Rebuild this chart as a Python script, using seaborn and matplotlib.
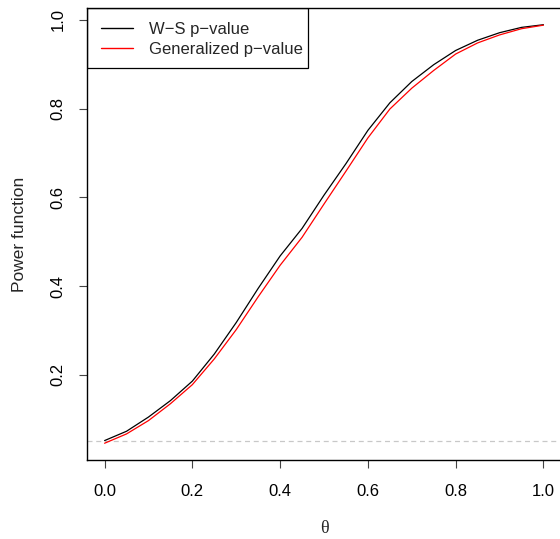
import numpy as np
import pandas as pd
import matplotlib
matplotlib.use("Agg")
import matplotlib.pyplot as plt
from matplotlib.patches import Rectangle
import seaborn as sns

theta = [0.00, 0.05, 0.10, 0.15, 0.20, 0.25, 0.30, 0.35, 0.40, 0.45, 0.50,
         0.55, 0.60, 0.65, 0.70, 0.75, 0.80, 0.85, 0.90, 0.95, 1.00]
ws_pvalue = [0.052, 0.073, 0.105, 0.142, 0.186, 0.247, 0.318, 0.395, 0.468, 0.530, 0.605,
             0.676, 0.751, 0.813, 0.861, 0.899, 0.931, 0.954, 0.971, 0.983, 0.989]
gen_pvalue = [0.046, 0.067, 0.097, 0.135, 0.178, 0.236, 0.302, 0.376, 0.447, 0.510, 0.585,
              0.659, 0.734, 0.799, 0.846, 0.886, 0.923, 0.948, 0.966, 0.980, 0.988]
alpha_level = 0.05

df = pd.DataFrame({
    "theta": theta * 2,
    "power": ws_pvalue + gen_pvalue,
    "method": ["W\u2212S p\u2212value"] * len(theta) + ["Generalized p\u2212value"] * len(theta),
})

sns.set_style("white")
plt.rcParams["font.family"] = ["Liberation Sans", "DejaVu Sans"]

fig = plt.figure(figsize=(5.6, 5.39), dpi=100)
ax = fig.add_axes([0.1554, 0.1466, 0.8464, 0.8386])

sns.lineplot(data=df, x="theta", y="power", hue="method",
             palette=["black", "red"], linewidth=0.9, ax=ax)

ax.axhline(alpha_level, color="#c8c8c8", linestyle=(0, (4, 3)), linewidth=0.9, zorder=0)

lo, hi = min(gen_pvalue), max(ws_pvalue)
pad = 0.04 * (hi - lo)
ax.set_ylim(lo - pad, hi + pad)
ax.set_xlim(-0.04, 1.04)

ax.set_xticks([0.0, 0.2, 0.4, 0.6, 0.8, 1.0])
ax.set_xticklabels(["0.0", "0.2", "0.4", "0.6", "0.8", "1.0"])
ax.set_yticks([0.2, 0.4, 0.6, 0.8, 1.0])
ax.set_yticklabels(["0.2", "0.4", "0.6", "0.8", "1.0"], rotation=90, va="center")

for s in ax.spines.values():
    s.set_color("black")
    s.set_linewidth(1.0)

ax.tick_params(axis="both", direction="out", length=5.5, width=0.8, color="#444444",
               labelsize=12, labelcolor="black", bottom=True, left=True)
ax.tick_params(axis="x", pad=12)
ax.tick_params(axis="y", pad=10)

ax.set_xlabel("\u03b8", fontsize=13, family=["Liberation Serif", "DejaVu Serif"], labelpad=15)
ax.set_ylabel("Power function", fontsize=12.5, labelpad=17)

leg = ax.legend(loc="upper left", bbox_to_anchor=(0.0, 1.0), frameon=False,
                borderaxespad=0.0, fontsize=12, handlelength=1.9, handletextpad=0.95,
                borderpad=0.85, labelspacing=0.3)
for line in leg.get_lines():
    line.set_linewidth(1.0)

# R-style legend box: tighter on the right than on the left
fig.canvas.draw()
bb = leg.get_window_extent()
inv = ax.transAxes.inverted()
(x0, y0) = inv.transform((bb.x0, bb.y0 + 3))
(x1, y1) = inv.transform((bb.x1 - 9, bb.y1))
ax.add_patch(Rectangle((x0, y0), x1 - x0, y1 - y0, transform=ax.transAxes,
                       fill=False, edgecolor="black", linewidth=0.9, zorder=5))

fig.savefig("out.png", dpi=100)
